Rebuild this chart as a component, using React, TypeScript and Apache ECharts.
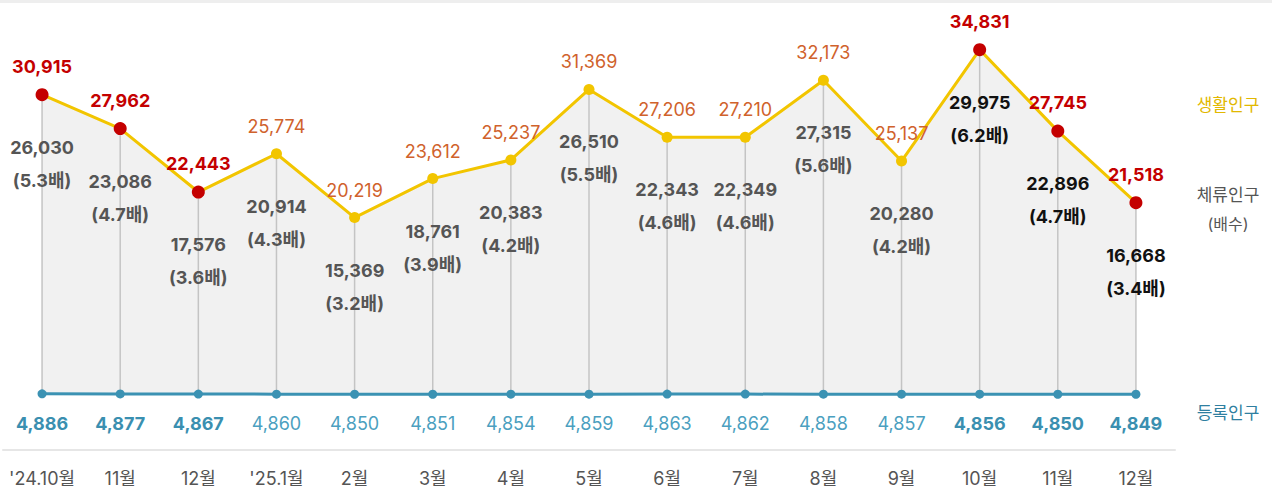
import React, { useEffect, useRef } from "react";
import * as echarts from "echarts";

const categories = ["'24.10월", "11월", "12월", "'25.1월", "2월", "3월", "4월", "5월", "6월", "7월", "8월", "9월", "10월", "11월", "12월"];
const livingPop = [30915, 27962, 22443, 25774, 20219, 23612, 25237, 31369, 27206, 27210, 32173, 25137, 34831, 27745, 21518];
const stayPop = [26030, 23086, 17576, 20914, 15369, 18761, 20383, 26510, 22343, 22349, 27315, 20280, 29975, 22896, 16668];
const stayRatio = ["5.3", "4.7", "3.6", "4.3", "3.2", "3.9", "4.2", "5.5", "4.6", "4.6", "5.6", "4.2", "6.2", "4.7", "3.4"];
const registeredPop = [4886, 4877, 4867, 4860, 4850, 4851, 4854, 4859, 4863, 4862, 4858, 4857, 4856, 4850, 4849];
const highlighted = [true, true, true, false, false, false, false, false, false, false, false, false, true, true, true];
const darkStay = [false, false, false, false, false, false, false, false, false, false, false, false, true, true, true];

const FONT = "Inter, 'Noto Sans CJK KR', 'Noto Sans', sans-serif";
const fmt = (v: number) => v.toLocaleString("en-US");

export default function App() {
  const ref = useRef<HTMLDivElement>(null);
  useEffect(() => {
    document.body.style.margin = "0";
    if (!ref.current) return;
    const chart = echarts.init(ref.current, null, { renderer: "svg" });
    const diff = livingPop.map((v, i) => v - registeredPop[i]);
    const option: any = {
      animation: false,
      textStyle: { fontFamily: FONT },
      grid: { left: 3, right: 97, top: 10, bottom: 43, containLabel: false },
      xAxis: {
        type: "category",
        data: categories,
        boundaryGap: true,
        axisLine: { show: true, lineStyle: { color: "#e6e6e6", width: 2 } },
        axisTick: { show: false },
        axisLabel: { color: "#555", fontSize: 18, margin: 19, fontFamily: FONT, interval: 0 },
        splitLine: { show: false },
      },
      yAxis: { type: "value", min: 0, max: 38280, show: false, splitLine: { show: false } },
      graphic: [
        { type: "rect", left: 0, top: 0, shape: { width: 1272, height: 3 }, style: { fill: "#eeeeee" } },
        { type: "text", x: 1228, y: 105, style: { text: "생활인구", fill: "#e2b800", fontSize: 17, fontFamily: FONT, align: "center", verticalAlign: "middle" } },
        { type: "text", x: 1228, y: 195, style: { text: "체류인구", fill: "#555", fontSize: 17, fontFamily: FONT, align: "center", verticalAlign: "middle" } },
        { type: "text", x: 1228, y: 224, style: { text: "(배수)", fill: "#555", fontSize: 16, fontFamily: FONT, align: "center", verticalAlign: "middle" } },
        { type: "text", x: 1228, y: 413, style: { text: "등록인구", fill: "#2f7fa0", fontSize: 17, fontFamily: FONT, align: "center", verticalAlign: "middle" } },
      ],
      series: [
        {
          name: "base",
          type: "line",
          stack: "band",
          data: registeredPop,
          symbol: "none",
          lineStyle: { opacity: 0 },
          z: 0,
          silent: true,
        },
        {
          name: "band",
          type: "line",
          stack: "band",
          data: diff,
          symbol: "none",
          lineStyle: { opacity: 0 },
          areaStyle: { color: "#f1f1f1", opacity: 1 },
          z: 0,
          silent: true,
        },
        {
          name: "체류인구",
          type: "custom",
          z: 1,
          data: categories.map((_, i) => [i, livingPop[i], registeredPop[i]]),
          renderItem: (params: any, api: any) => {
            const i = api.value(0);
            const top = api.coord([i, api.value(1)]);
            const bot = api.coord([i, api.value(2)]);
            const dark = darkStay[i];
            return {
              type: "group",
              children: [
                {
                  type: "line",
                  shape: { x1: top[0], y1: top[1], x2: bot[0], y2: bot[1] },
                  style: { stroke: "#c4c4c4", lineWidth: 1.5 },
                },
                {
                  type: "text",
                  x: top[0],
                  y: top[1] + 36,
                  style: {
                    text: fmt(stayPop[i]) + "\n(" + stayRatio[i] + "배)",
                    fill: dark ? "#111" : "#555",
                    fontSize: 18,
                    fontWeight: "bold",
                    fontFamily: FONT,
                    lineHeight: 33,
                    align: "center",
                    verticalAlign: "top",
                  },
                },
              ],
            };
          },
        },
        {
          name: "생활인구",
          type: "line",
          z: 3,
          data: livingPop.map((v, i) => ({
            value: v,
            symbolSize: highlighted[i] ? 13 : 11,
            itemStyle: { color: highlighted[i] ? "#c40000" : "#f2c500" },
            label: highlighted[i]
              ? { color: "#c40000", fontWeight: "bold" }
              : { color: "#d0622c", fontWeight: "normal" },
          })),
          symbol: "circle",
          lineStyle: { color: "#f2c500", width: 3 },
          itemStyle: { color: "#f2c500" },
          label: {
            show: true,
            position: "top",
            distance: 13,
            fontSize: 18,
            fontFamily: FONT,
            formatter: (p: any) => fmt(livingPop[p.dataIndex]),
          },
        },
        {
          name: "등록인구",
          type: "line",
          z: 3,
          data: registeredPop.map((v, i) => ({
            value: v,
            label: highlighted[i]
              ? { color: "#3a8fb0", fontWeight: "bold" }
              : { color: "#4b9fc0", fontWeight: "normal" },
          })),
          symbol: "circle",
          symbolSize: 9,
          lineStyle: { color: "#3b92b3", width: 3 },
          itemStyle: { color: "#3b92b3" },
          label: {
            show: true,
            position: "bottom",
            distance: 16,
            fontSize: 18,
            fontFamily: FONT,
            formatter: (p: any) => fmt(registeredPop[p.dataIndex]),
          },
        },
      ],
    };
    chart.setOption(option);
    return () => chart.dispose();
  }, []);
  return <div ref={ref} style={{ width: 1272, height: 493 }} />;
}
